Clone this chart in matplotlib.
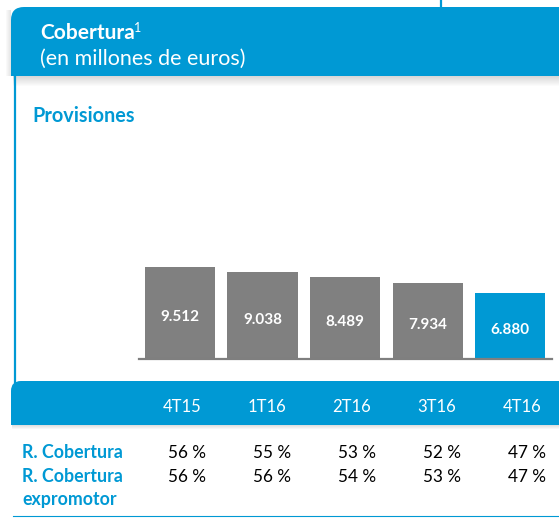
import numpy as np
import matplotlib
matplotlib.use('Agg')
import matplotlib.pyplot as plt
from matplotlib.patches import FancyBboxPatch, Rectangle

plt.rcParams['font.family'] = ['Lato', 'DejaVu Sans']

# data
quarters = ['4T15', '1T16', '2T16', '3T16', '4T16']
provisiones = [9512, 9038, 8489, 7934, 6880]
prov_labels = ['9.512', '9.038', '8.489', '7.934', '6.880']
r_cobertura = ['56 %', '55 %', '53 %', '52 %', '47 %']
r_cobertura_expro = ['56 %', '56 %', '54 %', '53 %', '47 %']

BLUE = '#0099d4'
GREY = '#808080'
W, H = 559, 518

fig = plt.figure(figsize=(W / 100, H / 100), dpi=100)

# background axes in pixel coords
bg = fig.add_axes([0, 0, 1, 1])
bg.set_xlim(0, W)
bg.set_ylim(H, 0)
bg.axis('off')

# header band (only top-left corner rounded)
bg.add_patch(FancyBboxPatch((11, 7), 700, 69, boxstyle='round,pad=0,rounding_size=13',
                            fc=BLUE, ec='none', zorder=2))
bg.add_patch(Rectangle((11, 40), 700, 36, fc=BLUE, ec='none', zorder=2))
bg.plot([441, 441], [0, 7], color=BLUE, lw=1.6, zorder=2)
# shadow under the header
for k in range(10):
    bg.add_patch(Rectangle((13, 76 + k), 700, 1, fc='0.5', alpha=0.3 * (1 - k / 10), ec='none', zorder=1))
for k in range(5):
    bg.add_patch(Rectangle((10 - k, 10), 1, 66, fc='0.6', alpha=0.25 * (1 - k / 5), ec='none', zorder=1))

t = bg.text(40, 39, 'Cobertura', color='white', fontsize=15, fontweight='bold', va='baseline', zorder=3)
bg.annotate('1', xy=(1, 1), xycoords=t, xytext=(-0.3, 0.5), textcoords='offset points',
            color='white', fontsize=9, va='top', ha='left', zorder=3)
bg.text(40, 65, '(en millones de euros)', color='white', fontsize=15.5, va='baseline', zorder=3)

# left frame line
bg.plot([15, 15], [76, 383], color=BLUE, lw=1.6, zorder=2)
bg.text(32, 122, 'Provisiones', color=BLUE, fontsize=14.3, fontweight='bold', va='baseline')

# bottom band with the quarters (top-left corner rounded)
bg.add_patch(FancyBboxPatch((11, 381), 700, 44, boxstyle='round,pad=0,rounding_size=10',
                            fc=BLUE, ec='none', zorder=2))
bg.add_patch(Rectangle((11, 400), 700, 25, fc=BLUE, ec='none', zorder=2))
for k in range(4):
    bg.add_patch(Rectangle((12, 425 + k), 700, 1, fc='0.6', alpha=0.3 * (1 - k / 4), ec='none', zorder=1))

# row labels
bg.text(22, 458, 'R. Cobertura', color=BLUE, fontsize=12.8, fontweight='bold', va='baseline')
bg.text(22, 481.5, 'R. Cobertura', color=BLUE, fontsize=12.8, fontweight='bold', va='baseline')
bg.text(22, 505, 'expromotor', color=BLUE, fontsize=12.8, fontweight='bold', va='baseline')
bg.plot([13, W], [516, 516], color=BLUE, lw=0.8)

# bar chart
ax = fig.add_axes([138.5 / W, (H - 359.3) / H, (551.6 - 138.5) / W, 96.7 / H])
ax.patch.set_alpha(0)
x = np.arange(len(quarters))
colors = [GREY] * (len(quarters) - 1) + [BLUE]
ax.bar(x, provisiones, width=0.85, color=colors, zorder=2)
for i, v in enumerate(provisiones):
    ax.annotate(prov_labels[i], (x[i], v / 2), xytext=(0, -3), textcoords='offset points',
                ha='center', va='center', color='white', fontsize=11, fontweight='bold')
ax.set_xlim(-0.5, 4.5)
ax.set_ylim(0, 10000)
for s in ['top', 'left', 'right']:
    ax.spines[s].set_visible(False)
ax.spines['bottom'].set_color('#7f7f7f')
ax.spines['bottom'].set_linewidth(1.6)
ax.spines['bottom'].set_zorder(3)
ax.set_xticks([])
ax.set_yticks([])

# table columns (quarters + ratios)
tb = fig.add_axes([139.5 / W, 0, 425 / W, 1])
tb.patch.set_alpha(0)
tb.set_xlim(-0.5, 4.5)
tb.set_ylim(H, 0)
tb.axis('off')
for i, q in enumerate(quarters):
    tb.text(i, 411.5, q, color='white', fontsize=12, ha='center', va='baseline', zorder=3)
    tb.text(i + 0.28, 458, r_cobertura[i], color='black', fontsize=12.3, ha='right', va='baseline')
    tb.text(i + 0.28, 481.5, r_cobertura_expro[i], color='black', fontsize=12.3, ha='right', va='baseline')

fig.savefig('out.png', dpi=100)
